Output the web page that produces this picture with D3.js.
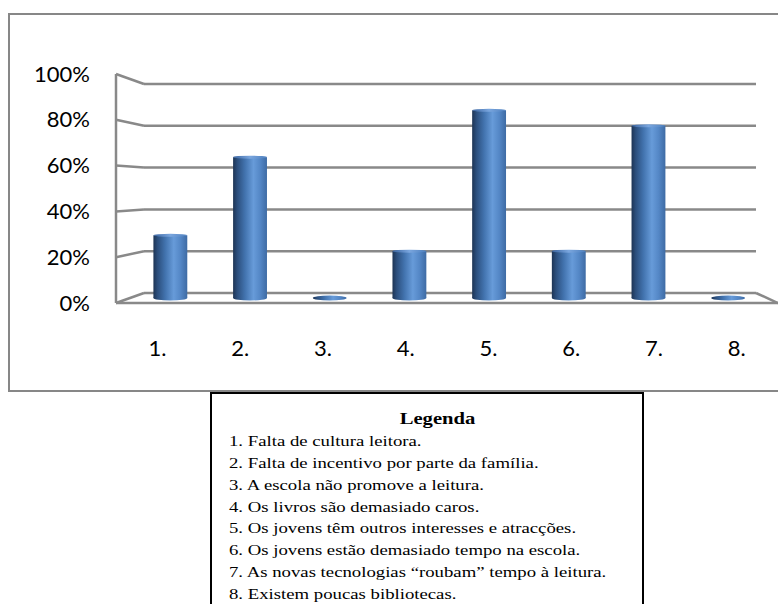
<!DOCTYPE html>
<html>
<head>
<meta charset="utf-8">
<script src="https://cdn.jsdelivr.net/npm/d3@7"></script>
<style>
  html, body { margin: 0; padding: 0; background: #fff; }
  svg { display: block; }
</style>
</head>
<body>
<svg id="chart" width="778" height="604"></svg>
<script>
// Categories (reasons) and their shares
const categories = ["1.", "2.", "3.", "4.", "5.", "6.", "7.", "8."];
const values = [0.286, 0.643, 0, 0.214, 0.857, 0.214, 0.786, 0];
const yTicks = [0, 0.2, 0.4, 0.6, 0.8, 1];
const legendTitle = "Legenda";
const legendItems = [
  "1. Falta de cultura leitora.",
  "2. Falta de incentivo por parte da família.",
  "3. A escola não promove a leitura.",
  "4. Os livros são demasiado caros.",
  "5. Os jovens têm outros interesses e atracções.",
  "6. Os jovens estão demasiado tempo na escola.",
  "7. As novas tecnologias “roubam” tempo à leitura.",
  "8. Existem poucas bibliotecas."
];

const svg = d3.select("#chart");

// 3-D box geometry: front edge, back wall and the depth where bars stand
const frontL = 116, frontR = 778, backL = 144, backR = 756;
const yFront = d3.scaleLinear().domain([0, 1]).range([303, 74]);
const yBack  = d3.scaleLinear().domain([0, 1]).range([293, 84]);
const yMid   = d3.scaleLinear().domain([0, 1]).range([298, 79]);
const xMid   = d3.scaleBand().domain(categories).range([130.5, 768]);
const xFront = d3.scaleBand().domain(categories).range([frontL, frontR]);
const barFrac = 0.425;
const pct = d3.format(".0%");

// Chart area frame
svg.append("rect")
  .attr("x", 9).attr("y", 14).attr("width", 800).attr("height", 377)
  .attr("fill", "#fff").attr("stroke", "#878787").attr("stroke-width", 2);

// Cylinder shading
const defs = svg.append("defs");
const grad = defs.append("linearGradient").attr("id", "cyl")
  .attr("x1", "0%").attr("x2", "100%").attr("y1", "0%").attr("y2", "0%");
[[0, "#1d3454"], [0.12, "#2b4e7c"], [0.35, "#4273ae"], [0.6, "#679bd9"],
 [0.8, "#5487c6"], [1, "#3e6ba4"]].forEach(([o, c]) =>
  grad.append("stop").attr("offset", o).attr("stop-color", c));
const gradTop = defs.append("linearGradient").attr("id", "cylTop")
  .attr("x1", "0%").attr("x2", "100%");
[[0, "#3a64a0"], [0.5, "#7aa6de"], [1, "#4d7fbe"]].forEach(([o, c]) =>
  gradTop.append("stop").attr("offset", o).attr("stop-color", c));

const grid = svg.append("g").attr("stroke", "#898989").attr("stroke-width", 2.5)
  .attr("fill", "none");

// Back-wall gridlines
grid.selectAll("line.gl").data(yTicks).join("line").attr("class", "gl")
  .attr("x1", backL).attr("x2", backR)
  .attr("y1", d => yBack(d)).attr("y2", d => yBack(d));

// Side-wall slants
grid.selectAll("line.sl").data(yTicks).join("line").attr("class", "sl")
  .attr("x1", frontL).attr("x2", backL)
  .attr("y1", d => yFront(d)).attr("y2", d => yBack(d));

// Side-wall front edge and floor
grid.append("line").attr("x1", frontL).attr("x2", frontL)
  .attr("y1", yFront(1)).attr("y2", yFront(0));
grid.append("line").attr("x1", frontL).attr("x2", frontR)
  .attr("y1", yFront(0)).attr("y2", yFront(0));
grid.append("line").attr("x1", backR).attr("x2", frontR)
  .attr("y1", yBack(0)).attr("y2", yFront(0));

// Y axis labels
svg.append("g").selectAll("text").data(yTicks).join("text")
  .attr("x", 90).attr("y", d => yFront(d) + 2)
  .attr("text-anchor", "end").attr("dominant-baseline", "middle")
  .attr("font-family", "Lato, 'Open Sans', sans-serif").attr("font-size", 22)
  .attr("fill", "#000").text(d => pct(d));

// X axis labels
svg.append("g").selectAll("text").data(categories).join("text")
  .attr("x", d => xFront(d) + xFront.bandwidth() / 2).attr("y", 350)
  .attr("text-anchor", "middle").attr("dominant-baseline", "middle")
  .attr("font-family", "Lato, 'Open Sans', sans-serif").attr("font-size", 22)
  .attr("fill", "#000").text(d => d);

// Cylinders
const bw = xMid.bandwidth() * barFrac;
const bars = svg.append("g").selectAll("g").data(categories.map((c, i) => ({ c, v: values[i] })))
  .join("g")
  .attr("transform", d => `translate(${xMid(d.c) + xMid.bandwidth() / 2},0)`);

bars.filter(d => d.v > 0).append("rect")
  .attr("x", -bw / 2).attr("width", bw)
  .attr("y", d => yMid(d.v)).attr("height", d => yMid(0) - yMid(d.v))
  .attr("fill", "url(#cyl)");
bars.append("ellipse")
  .attr("cx", 0).attr("cy", yMid(0)).attr("rx", bw / 2).attr("ry", 2.5)
  .attr("fill", "url(#cyl)");
bars.filter(d => d.v > 0).append("ellipse")
  .attr("cx", 0).attr("cy", d => yMid(d.v)).attr("rx", bw / 2).attr("ry", 1.5)
  .attr("fill", "url(#cylTop)");

// Legend box
svg.append("rect")
  .attr("x", 211).attr("y", 393).attr("width", 432).attr("height", 240)
  .attr("fill", "#fff").attr("stroke", "#000").attr("stroke-width", 2);

svg.append("text")
  .attr("transform", "translate(437.5,424) scale(1.25,1)")
  .attr("text-anchor", "middle")
  .attr("font-family", "'Liberation Serif', 'Times New Roman', serif")
  .attr("font-weight", "bold").attr("font-size", 16.5)
  .attr("fill", "#000").text(legendTitle);

svg.append("g").selectAll("text").data(legendItems).join("text")
  .attr("transform", (d, i) => `translate(229,${446 + i * 21.86}) scale(1.25,1)`)
  .attr("font-family", "'Liberation Serif', 'Times New Roman', serif")
  .attr("font-size", 15).attr("fill", "#000").text(d => d);
</script>
</body>
</html>
